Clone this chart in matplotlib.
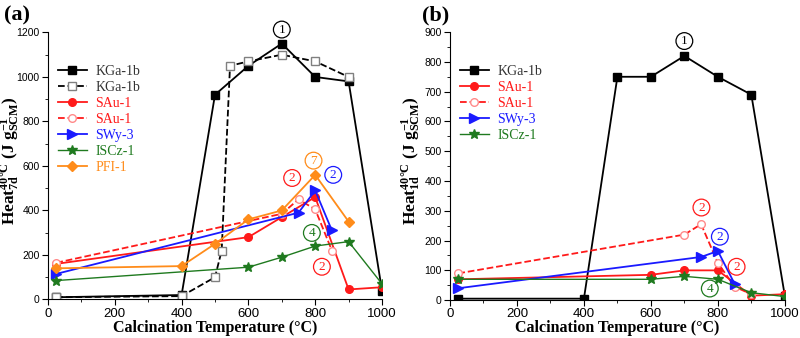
import matplotlib.pyplot as plt
from matplotlib.ticker import MultipleLocator

plt.rcParams['font.family'] = 'Liberation Sans'
plt.rcParams['mathtext.fontset'] = 'custom'
plt.rcParams['mathtext.rm'] = 'Liberation Serif:bold'
plt.rcParams['mathtext.it'] = 'Liberation Serif:bold'
plt.rcParams['mathtext.bf'] = 'Liberation Serif:bold'

# ---- panel (a): 7-day heat ----
kga_x = [25, 400, 500, 600, 700, 800, 900, 1000]
kga_y = [10, 20, 920, 1050, 1150, 1000, 980, 40]
kga2_x = [25, 400, 500, 520, 545, 600, 700, 800, 900]
kga2_y = [10, 15, 100, 220, 1050, 1070, 1100, 1070, 1000]
sau_x = [25, 600, 700, 800, 900, 1000]
sau_y = [160, 280, 370, 460, 45, 55]
sau2_x = [25, 700, 750, 800, 850]
sau2_y = [165, 385, 450, 405, 220]
swy_x = [25, 750, 800, 850]
swy_y = [115, 390, 490, 310]
iscz_x = [25, 600, 700, 800, 900, 1000]
iscz_y = [85, 145, 190, 240, 260, 70]
pfi_x = [25, 400, 500, 600, 700, 800, 900]
pfi_y = [140, 150, 250, 360, 400, 560, 350]

# ---- panel (b): 1-day heat ----
b_kga_x = [25, 400, 500, 600, 700, 800, 900, 1000]
b_kga_y = [5, 5, 750, 750, 820, 750, 690, 15]
b_sau_x = [25, 600, 700, 800, 900, 1000]
b_sau_y = [70, 85, 100, 100, 15, 20]
b_sau2_x = [25, 700, 750, 800, 850, 900]
b_sau2_y = [90, 220, 255, 125, 45, 20]
b_swy_x = [25, 750, 800, 850]
b_swy_y = [40, 145, 165, 55]
b_iscz_x = [25, 600, 700, 800, 900, 1000]
b_iscz_y = [70, 70, 80, 70, 25, 12]

RED = '#ff1a1a'
PINK = '#ff8a8a'
BLUE = '#1a1aff'
GREEN = '#1f7a1f'
ORANGE = '#ff8c1a'

fig = plt.figure(figsize=(8, 3.38), dpi=100)
ax1 = fig.add_axes([0.06, 0.114, 0.4175, 0.79])
ax2 = fig.add_axes([0.5625, 0.112, 0.4185, 0.793])

ms = 5.5
lw = 1.3

ax1.plot(kga_x, kga_y, '-s', color='black', lw=lw, ms=ms, label='KGa-1b')
ax1.plot(kga2_x, kga2_y, '--s', color='black', lw=lw, ms=ms, mfc='white', mec='#808080', label='KGa-1b')
ax1.plot(sau_x, sau_y, '-o', color=RED, lw=lw, ms=ms, label='SAu-1')
ax1.plot(sau2_x, sau2_y, '--o', color=RED, lw=lw, ms=ms, mfc='white', mec=PINK, label='SAu-1')
ax1.plot(swy_x, swy_y, '->', color=BLUE, lw=lw, ms=ms + 1, label='SWy-3')
ax1.plot(iscz_x, iscz_y, '-*', color=GREEN, lw=1.0, ms=ms + 1.5, label='ISCz-1')
ax1.plot(pfi_x, pfi_y, '-D', color=ORANGE, lw=lw, ms=ms - 0.5, label='PFI-1')

ax2.plot(b_kga_x, b_kga_y, '-s', color='black', lw=lw, ms=ms, label='KGa-1b')
ax2.plot(b_sau_x, b_sau_y, '-o', color=RED, lw=lw, ms=ms, label='SAu-1')
ax2.plot(b_sau2_x, b_sau2_y, '--o', color=RED, lw=lw, ms=ms, mfc='white', mec=PINK, label='SAu-1')
ax2.plot(b_swy_x, b_swy_y, '->', color=BLUE, lw=lw, ms=ms + 1, label='SWy-3')
ax2.plot(b_iscz_x, b_iscz_y, '-*', color=GREEN, lw=1.0, ms=ms + 1.5, label='ISCz-1')


def circ(ax, x, y, s, c):
    ax.text(x, y, s, color=c, ha='center', va='center', fontsize=9.5,
            family='Liberation Serif',
            bbox=dict(boxstyle='circle,pad=0.18', fc='none', ec=c, lw=0.9))


circ(ax1, 700, 1213, '1', 'black')
circ(ax1, 795, 624, '7', ORANGE)
circ(ax1, 731, 546, '2', RED)
circ(ax1, 854, 560, '2', BLUE)
circ(ax1, 790, 299, '4', GREEN)
circ(ax1, 820, 147, '2', RED)

circ(ax2, 700, 870, '1', 'black')
circ(ax2, 751, 311, '2', RED)
circ(ax2, 806, 213, '2', BLUE)
circ(ax2, 856, 112, '2', RED)
circ(ax2, 776, 39, '4', GREEN)

for ax, ymax, ymaj, ymin, lab, lx in [(ax1, 1200, 200, 100, '7d', -0.08),
                                      (ax2, 900, 100, 50, '1d', -0.084)]:
    ax.set_xlim(0, 1000)
    ax.set_ylim(0, ymax)
    ax.spines['top'].set_visible(False)
    ax.spines['right'].set_visible(False)
    ax.xaxis.set_major_locator(MultipleLocator(200))
    ax.xaxis.set_minor_locator(MultipleLocator(100))
    ax.yaxis.set_major_locator(MultipleLocator(ymaj))
    ax.yaxis.set_minor_locator(MultipleLocator(ymin))
    ax.tick_params(which='both', direction='out')
    ax.tick_params(axis='x', labelsize=9.5, pad=2)
    ax.tick_params(axis='y', labelsize=7.5, pad=2)
    ax.tick_params(which='major', length=4)
    ax.tick_params(which='minor', length=2.5)
    ax.set_xlabel('Calcination Temperature (°C)', family='Liberation Serif',
                  weight='bold', fontsize=11.5, labelpad=0)
    ax.set_ylabel('Heat$^{\\mathrm{40°C}}_{\\mathrm{' + lab + '}}$ (J g$^{\\mathrm{-1}}_{\\mathrm{SCM}}$)',
                  family='Liberation Serif', weight='bold', fontsize=12.5)
    ax.yaxis.set_label_coords(lx, 0.52)
    leg = ax.legend(loc='upper left', bbox_to_anchor=(0.0, 0.915), frameon=False,
                    prop={'family': 'Liberation Serif', 'size': 10},
                    handlelength=2.1, labelspacing=0.22, handletextpad=0.6,
                    borderaxespad=0.3)
    for t, h in zip(leg.get_texts(), leg.legend_handles):
        c = h.get_color()
        t.set_color('#333333' if c == 'black' else c)

fig.text(0.005, 0.955, '(a)', family='Liberation Serif', weight='bold', fontsize=16, va='center')
fig.text(0.528, 0.955, '(b)', family='Liberation Serif', weight='bold', fontsize=16, va='center')

fig.savefig('out.png', dpi=100)
